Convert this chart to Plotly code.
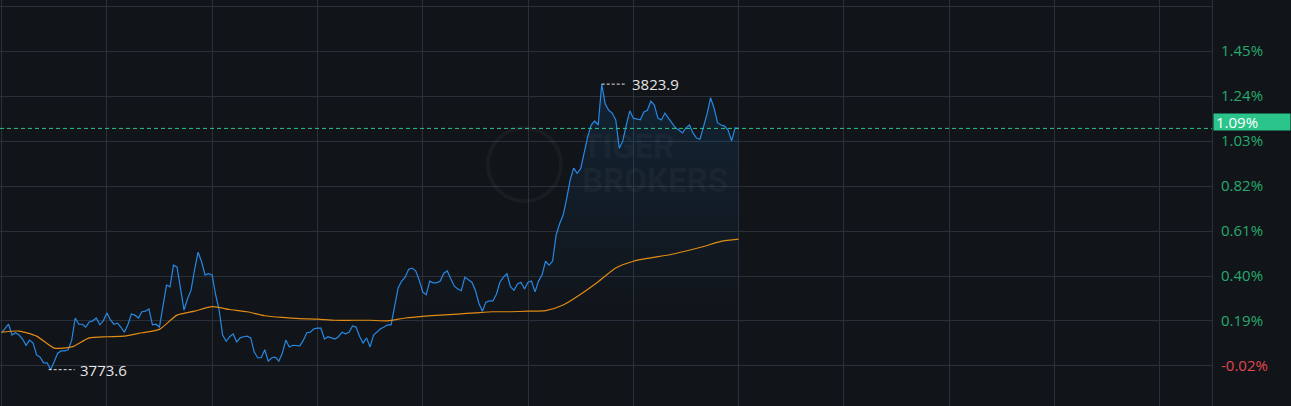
import plotly.graph_objects as go

# ---------------- data ----------------
prev_close = 3775.0

minutes = list(range(211))
price = [
    3780.1, 3780.9, 3781.6, 3779.7, 3780.1, 3779.7, 3779.0, 3777.9, 3778.8, 3778.3,
    3776.2, 3775.8, 3774.8, 3774.8, 3773.6, 3775.0, 3776.5, 3776.9, 3776.9, 3777.1,
    3778.8, 3782.7, 3781.6, 3781.6, 3781.1, 3782.0, 3782.2, 3782.7, 3781.5, 3782.2,
    3783.6, 3782.4, 3781.6, 3781.8, 3781.1, 3780.2, 3781.5, 3783.4, 3783.2, 3782.7,
    3783.8, 3783.9, 3784.3, 3781.5, 3781.6, 3781.1, 3784.6, 3788.5, 3788.2, 3792.0,
    3791.7, 3787.6, 3784.1, 3786.1, 3787.6, 3791.2, 3794.3, 3792.6, 3790.3, 3790.5,
    3790.3, 3786.8, 3784.1, 3779.7, 3778.6, 3779.4, 3779.9, 3778.5, 3779.2, 3779.4,
    3779.5, 3779.2, 3776.7, 3775.7, 3775.7, 3777.1, 3775.1, 3775.7, 3775.8, 3775.1,
    3776.5, 3778.8, 3777.6, 3777.9, 3777.9, 3777.8, 3778.8, 3780.1, 3780.2, 3780.8,
    3780.9, 3780.9, 3779.0, 3779.4, 3779.2, 3779.0, 3779.4, 3780.2, 3779.9, 3780.2,
    3781.3, 3781.1, 3779.5, 3778.3, 3779.2, 3777.6, 3779.7, 3780.2, 3780.8, 3781.1,
    3781.5, 3781.5, 3784.5, 3788.0, 3789.2, 3789.9, 3791.3, 3791.5, 3791.0, 3789.4,
    3787.3, 3786.8, 3789.2, 3788.9, 3788.9, 3789.2, 3790.6, 3791.0, 3789.6, 3788.3,
    3787.8, 3787.5, 3789.9, 3789.4, 3789.0, 3787.6, 3785.3, 3783.9, 3785.5, 3785.7,
    3785.7, 3786.9, 3789.0, 3789.9, 3790.5, 3788.2, 3787.6, 3788.7, 3789.0, 3787.8,
    3789.0, 3789.2, 3787.3, 3789.2, 3790.3, 3792.7, 3792.0, 3792.7, 3797.3, 3799.3,
    3800.8, 3803.7, 3807.0, 3809.1, 3808.2, 3809.0, 3811.9, 3814.6, 3816.7, 3817.4,
    3816.7, 3823.9, 3820.4, 3819.3, 3818.8, 3817.6, 3812.6, 3813.9, 3816.7, 3819.2,
    3817.9, 3817.8, 3817.6, 3819.0, 3819.3, 3820.9, 3820.2, 3817.9, 3817.6, 3818.8,
    3817.9, 3816.9, 3816.2, 3815.8, 3815.3, 3816.2, 3816.7, 3815.3, 3814.4, 3814.2,
    3816.2, 3818.6, 3821.5, 3819.7, 3817.1, 3816.7, 3816.5, 3815.8, 3813.9, 3816.2, 3816.1,
]

avg_minutes = list(range(0, 211, 5))
avg_price = [
    3780.2, 3780.4, 3779.5, 3777.4, 3777.6, 3779.2, 3779.4, 3779.5, 3780.1, 3780.7,
    3783.2, 3783.9, 3784.7, 3784.2, 3783.8, 3783.1, 3782.8, 3782.6, 3782.5, 3782.3,
    3782.3, 3782.3, 3782.2, 3782.7, 3783.0, 3783.2, 3783.4, 3783.6, 3783.8, 3783.8,
    3783.9, 3784.0, 3785.0, 3786.9, 3789.1, 3791.5, 3792.7, 3793.3, 3793.8, 3794.5,
    3795.3, 3796.2, 3796.6,
]

grid_minutes = list(range(0, 331, 30))
pct_ticks = [-0.02, 0.19, 0.40, 0.61, 0.82, 1.03, 1.24, 1.45, 1.66]
labelled_ticks = [-0.02, 0.19, 0.40, 0.61, 0.82, 1.03, 1.24, 1.45]

# ---------------- styling ----------------
BG = "#111419"
GRID = "#2a2f3a"
GREEN = "#25aa6b"
RED = "#e0474c"
BOX = "#2bc48a"
BLUE = "#2788e2"
ORANGE = "#e08b14"
FONT = "Open Sans"

pct = [(p / prev_close - 1) * 100 for p in price]
avg_pct = [(p / prev_close - 1) * 100 for p in avg_price]
last_pct = pct[-1]
imax = price.index(max(price))
imin = price.index(min(price))


def tick_label(v):
    if v not in labelled_ticks:
        return ""
    txt = f"{v:.2f}%"
    if v < 0:
        return f'<span style="color:{RED}">{txt}</span>'
    return txt


fig = go.Figure()
fig.add_trace(go.Scatter(
    x=minutes, y=pct, mode="lines",
    line=dict(color=BLUE, width=1.2),
    fill="tozeroy",
    fillgradient=dict(type="vertical",
                      colorscale=[[0, "rgba(33,150,243,0)"], [1, "rgba(33,150,243,0.12)"]],
                      start=0.15, stop=1.3),
    hoverinfo="skip", showlegend=False,
))
fig.add_trace(go.Scatter(
    x=avg_minutes, y=avg_pct, mode="lines", line_shape="spline",
    line=dict(color=ORANGE, width=1.2, smoothing=0.6),
    hoverinfo="skip", showlegend=False,
))

shapes = [
    dict(type="line", xref="paper", x0=0, x1=1, yref="y", y0=last_pct, y1=last_pct,
         line=dict(color=BOX, width=1, dash="4px,3px")),
    dict(type="line", xref="x", xsizemode="pixel", xanchor=minutes[imax], x0=0, x1=24,
         yref="y", y0=pct[imax], y1=pct[imax],
         line=dict(color="#e6e6e6", width=1, dash="3px,2px")),
    dict(type="line", xref="x", xsizemode="pixel", xanchor=minutes[imin], x0=-2, x1=24,
         yref="y", y0=pct[imin], y1=pct[imin],
         line=dict(color="#e6e6e6", width=1, dash="3px,2px")),
    dict(type="circle", xref="paper", yref="paper",
         x0=488 / 1212, x1=561 / 1212, y0=(406 - 201) / 406, y1=(406 - 128) / 406,
         line=dict(color="rgba(255,255,255,0.035)", width=4)),
]

annotations = [
    dict(x=minutes[imax], y=pct[imax], xref="x", yref="y", text=f"{price[imax]:.1f}",
         showarrow=False, xanchor="left", xshift=28,
         font=dict(family=FONT, size=15, color="#e6e6e6")),
    dict(x=minutes[imin], y=pct[imin], xref="x", yref="y", text=f"{price[imin]:.1f}",
         showarrow=False, xanchor="left", xshift=27,
         font=dict(family=FONT, size=15, color="#e6e6e6")),
    dict(x=1, xref="paper", y=last_pct, yref="y", text=f"{last_pct:.2f}%",
         showarrow=False, xanchor="left", yanchor="middle", xshift=1, yshift=6,
         align="left", width=72, height=12, borderpad=2, bgcolor=BOX,
         font=dict(family=FONT, size=15, color="#ffffff")),
    dict(x=580 / 1212, xref="paper", y=(406 - 147) / 406, yref="paper", text="<b>TIGER</b>",
         showarrow=False, xanchor="left", yanchor="middle",
         font=dict(family="Roboto", size=33, color="rgba(255,255,255,0.045)")),
    dict(x=580 / 1212, xref="paper", y=(406 - 180) / 406, yref="paper", text="<b>BROKERS</b>",
         showarrow=False, xanchor="left", yanchor="middle",
         font=dict(family="Roboto", size=33, color="rgba(255,255,255,0.045)")),
]

fig.update_layout(
    width=1291, height=406,
    margin=dict(l=0, r=79, t=0, b=0, pad=0),
    paper_bgcolor=BG, plot_bgcolor=BG,
    shapes=shapes, annotations=annotations,
    showlegend=False,
    xaxis=dict(range=[-0.43, 344.87], tickvals=grid_minutes, showticklabels=False,
               showgrid=True, gridcolor=GRID, gridwidth=1, zeroline=False,
               showline=False, ticks=""),
    yaxis=dict(side="right", range=[-0.2067, 1.688], tickvals=pct_ticks,
               ticktext=[tick_label(v) for v in pct_ticks],
               showgrid=True, gridcolor=GRID, gridwidth=1, zeroline=False,
               showline=True, linecolor=GRID, linewidth=1, ticks="",
               ticklabelstandoff=5,
               tickfont=dict(family=FONT, size=15, color=GREEN)),
)

fig.write_html(
    "out.html",
    config={"displayModeBar": False},
    post_script="document.body.style.margin='0';document.body.style.background='" + BG + "';",
)
